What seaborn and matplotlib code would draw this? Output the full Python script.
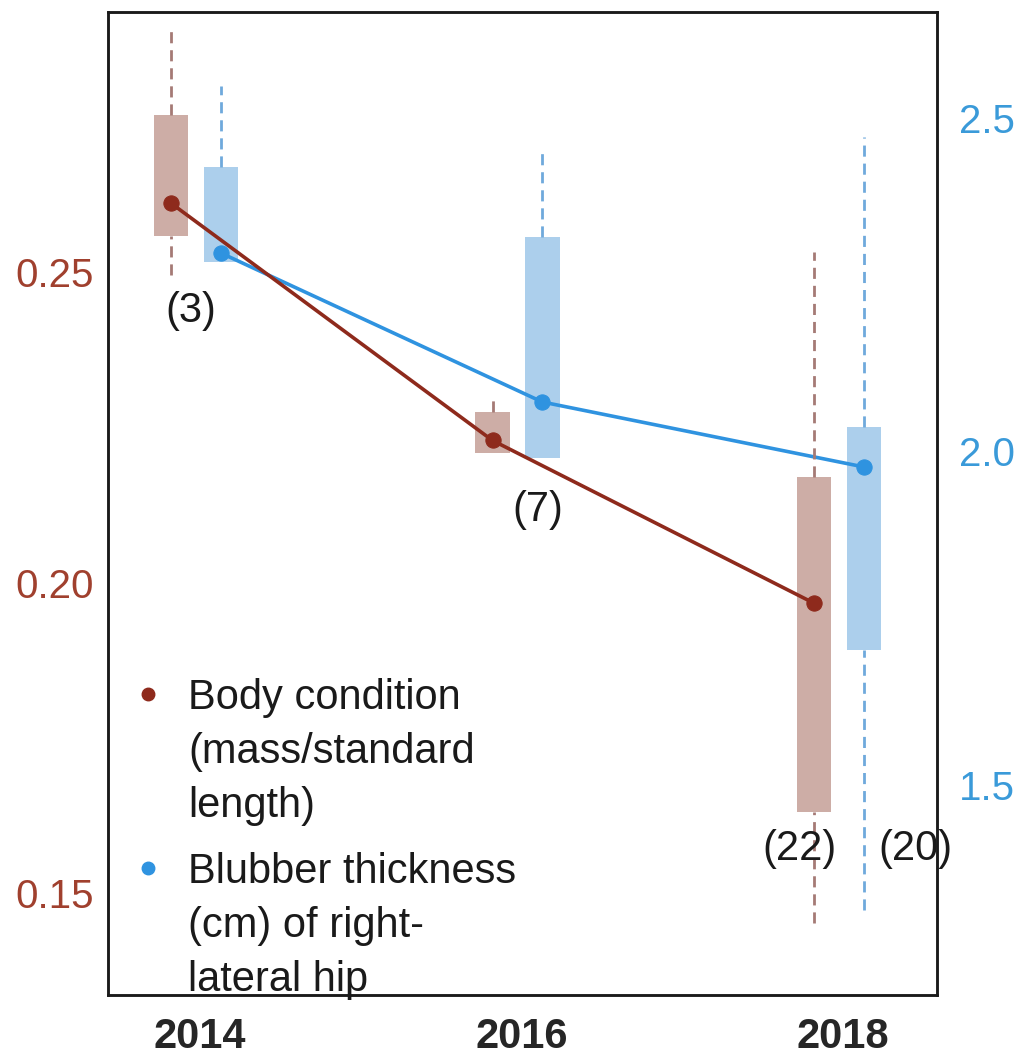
import matplotlib
matplotlib.use("Agg")
import matplotlib.pyplot as plt
from matplotlib.lines import Line2D
import seaborn as sns
import pandas as pd
import numpy as np

# ---------------- data ----------------
years = [2014, 2016, 2018]
counts_body = ["(3)", "(7)", "(22)"]
counts_blubber = ["(20)"]

body_mean = [0.2611, 0.2229, 0.1967]
body_q1 = [0.2558, 0.2209, 0.1630]
body_q3 = [0.2753, 0.2275, 0.2170]
body_wlo = [0.2495, 0.2209, 0.1452]
body_whi = [0.2893, 0.2302, 0.2532]

blub_mean = [2.2976, 2.0742, 1.9768]
blub_q1 = [2.2841, 1.9903, 1.7024]
blub_q3 = [2.4265, 2.3216, 2.0367]
blub_wlo = [2.2841, 1.9903, 1.3126]
blub_whi = [2.548, 2.449, 2.4715]

left_ticks = [0.15, 0.20, 0.25]
right_ticks = [1.5, 2.0, 2.5]

legend_body = ["Body condition", "(mass/standard", "length)"]
legend_blub = ["Blubber thickness", "(cm) of right-", "lateral hip"]

# ---------------- style ----------------
sns.set_style("white")
plt.rcParams["font.family"] = ["Liberation Sans", "DejaVu Sans"]

BROWN_LINE = "#8E2A1C"
BROWN_BOX = "#CDADA6"
BROWN_WHISK = "#A57A75"
BROWN_TICK = "#A0402E"
BLUE_LINE = "#2F93E0"
BLUE_BOX = "#ACCFEC"
BLUE_WHISK = "#6FA9DC"
BLUE_TICK = "#3A9AD9"
TXT = "#1a1a1a"

off_body = -0.18
off_blub = 0.13
box_w = 0.215
FS_TICK = 29
FS_TXT = 30

df_body = pd.DataFrame({"x": np.array(years) + off_body, "y": body_mean})
df_blub = pd.DataFrame({"x": np.array(years) + off_blub, "y": blub_mean})

fig = plt.figure(figsize=(10.25, 10.59), dpi=100)
ax1 = fig.add_axes([0.1054, 0.0604, 0.8087, 0.9283])
ax2 = ax1.twinx()
ax1.set_zorder(2)
ax2.set_zorder(1)
ax1.patch.set_visible(False)

dash = (0, (4, 2.5))

# blubber (right axis)
xb = np.array(years) + off_blub
ax2.bar(xb, np.array(blub_q3) - np.array(blub_q1), bottom=blub_q1, width=box_w,
        color=BLUE_BOX, edgecolor="none", zorder=1)
ax2.vlines(xb, blub_q3, blub_whi, colors=BLUE_WHISK, linestyles=dash, lw=2, zorder=1)
ax2.vlines(xb, blub_wlo, blub_q1, colors=BLUE_WHISK, linestyles=dash, lw=2, zorder=1)
sns.lineplot(data=df_blub, x="x", y="y", ax=ax2, color=BLUE_LINE, lw=2.6,
             marker="o", markersize=11, markeredgecolor=BLUE_LINE, zorder=3)

# body condition (left axis)
xr = np.array(years) + off_body
ax1.bar(xr, np.array(body_q3) - np.array(body_q1), bottom=body_q1, width=box_w,
        color=BROWN_BOX, edgecolor="none", zorder=1)
ax1.vlines(xr, body_q3, body_whi, colors=BROWN_WHISK, linestyles=dash, lw=2, zorder=1)
ax1.vlines(xr, body_wlo, body_q1, colors=BROWN_WHISK, linestyles=dash, lw=2, zorder=1)
sns.lineplot(data=df_body, x="x", y="y", ax=ax1, color=BROWN_LINE, lw=2.6,
             marker="o", markersize=11, markeredgecolor=BROWN_LINE, zorder=3)

# axes limits / ticks
ax1.set_xlim(2013.428, 2018.585)
ax1.set_ylim(0.1336, 0.2919)
ax2.set_ylim(1.185, 2.659)
ax1.set_xticks(years)
ax1.set_xticklabels([str(y) for y in years], fontsize=30, fontweight="bold")
ax1.set_yticks(left_ticks)
ax1.set_yticklabels([f"{v:.2f}" for v in left_ticks], fontsize=FS_TICK, color=BROWN_TICK)
ax2.set_yticks(right_ticks)
ax2.set_yticklabels([f"{v:.1f}" for v in right_ticks], fontsize=FS_TICK, color=BLUE_TICK)
ax1.tick_params(axis="x", length=0, pad=16)
ax1.tick_params(axis="y", length=0, pad=10)
ax2.tick_params(axis="y", length=0, pad=16)
ax1.set_xlabel("")
ax1.set_ylabel("")
ax2.set_ylabel("")
for ax in (ax1, ax2):
    for s in ax.spines.values():
        s.set_color(TXT)
        s.set_linewidth(1.8)
ax1.grid(False)
ax2.grid(False)

# sample sizes
ax1.text(2013.94, 0.2437, counts_body[0], fontsize=FS_TXT, ha="center", va="center", color=TXT)
ax1.text(2016.10, 0.2117, counts_body[1], fontsize=FS_TXT, ha="center", va="center", color=TXT)
ax1.text(2017.73, 0.1571, counts_body[2], fontsize=FS_TXT, ha="center", va="center", color=TXT)
ax1.text(2018.45, 0.1571, counts_blubber[0], fontsize=FS_TXT, ha="center", va="center", color=TXT)

# legend (two blocks)
def make_legend(color, labels, ytop):
    blank = Line2D([], [], linestyle="none", marker=None)
    handles = [Line2D([], [], linestyle="none", marker="o", markersize=9, color=color),
               blank, blank]
    leg = ax1.legend(handles, labels, loc="upper left", bbox_to_anchor=(0.029, ytop),
                     frameon=False, fontsize=FS_TXT, handlelength=0.75, handletextpad=0.6,
                     borderpad=0, borderaxespad=0, labelspacing=0.34)
    for t in leg.get_texts():
        t.set_color(TXT)
    return leg

leg1 = make_legend(BROWN_LINE, legend_body, 0.3228)
ax1.add_artist(leg1)
leg2 = make_legend(BLUE_LINE, legend_blub, 0.1458)

fig.savefig("out.png", dpi=100)
